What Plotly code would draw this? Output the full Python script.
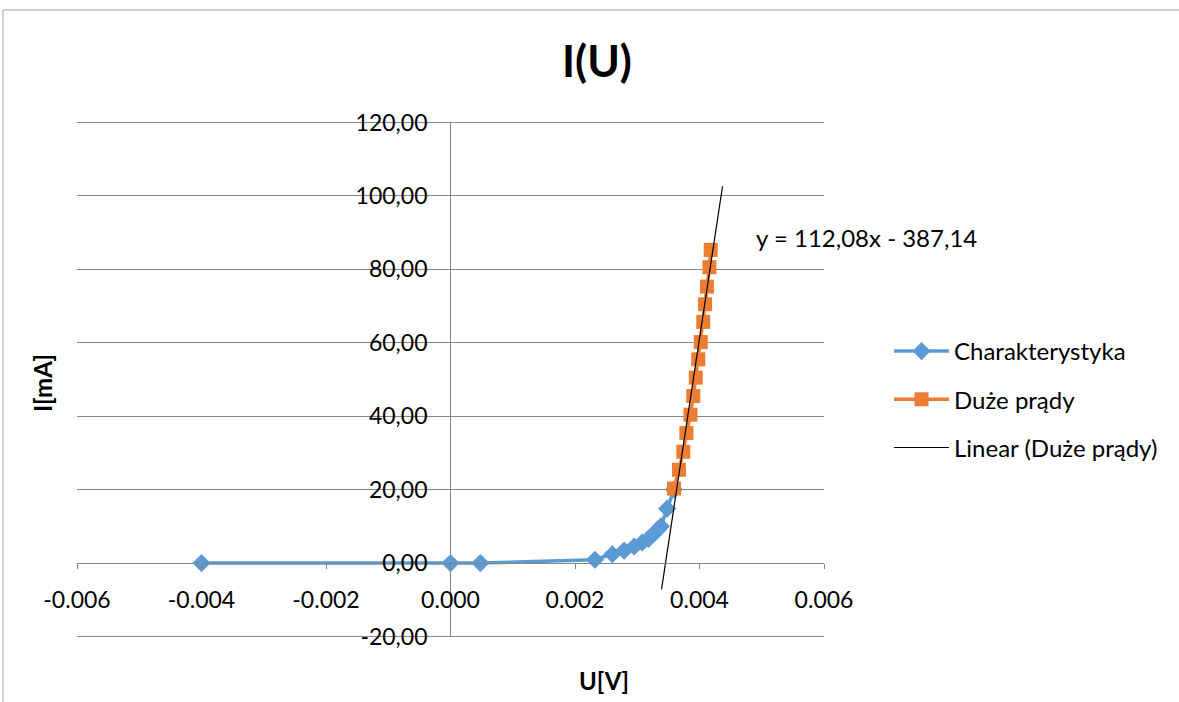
import plotly.graph_objects as go

# ---- data ----
char_u = [-0.0040, 0.0000, 0.00048, 0.00232, 0.00260, 0.00279, 0.00295, 0.00308, 0.00318,
          0.00326, 0.00333, 0.00338, 0.00348, 0.00359]
char_i = [0.0, 0.0, 0.0, 0.9, 2.4, 3.4, 4.5, 5.6, 6.6, 7.9, 9.1, 10.0, 14.8, 20.0]

big_u = [0.00359, 0.00367, 0.00374, 0.00379, 0.003855, 0.00390, 0.00394, 0.00398,
         0.00402, 0.00406, 0.00409, 0.00412, 0.00416, 0.00418]
big_i = [20.3, 25.4, 30.3, 35.4, 40.4, 45.5, 50.5, 55.5, 60.2, 65.7, 70.5, 75.3, 80.6, 85.3]

trend_slope = 112080.0      # per V (112,08 per mV)
trend_intercept = -387.14
trend_u = [0.00339, 0.00437]
trend_i = [trend_slope * u + trend_intercept for u in trend_u]

x_tickvals = [-0.006, -0.004, -0.002, 0.000, 0.002, 0.004, 0.006]
x_ticktext = ["-0.006", "-0.004", "-0.002", "0.000", "0.002", "0.004", "0.006"]
y_tickvals = [-20, 0, 20, 40, 60, 80, 100, 120]
y_ticktext = ["-20,00", "0,00", "20,00", "40,00", "60,00", "80,00", "100,00", "120,00"]

FONT = "Lato, Carlito, Calibri, sans-serif"
BLUE = "#5B9BD5"
ORANGE = "#ED7D31"
GRID = "#868686"

Y_LO, Y_HI = -20.15, 120.15
W, H = 1179, 702
L, R, T, B = 77, 1179 - 824, 122, 702 - 637
PW, PH = W - L - R, H - T - B


def px(xp):
    return (xp - L) / PW


def py(yp):
    return (H - B - yp) / PH


fig = go.Figure()
fig.add_trace(go.Scatter(
    x=char_u, y=char_i, mode="lines+markers", name="Charakterystyka",
    line=dict(color=BLUE, width=3.5),
    marker=dict(symbol="diamond", size=14, color=BLUE),
    legendgroup="a"))
fig.add_trace(go.Scatter(
    x=big_u, y=big_i, mode="lines+markers", name="Duże prądy",
    line=dict(color=ORANGE, width=3.5),
    marker=dict(symbol="square", size=14, color=ORANGE),
    legendgroup="b"))
fig.add_trace(go.Scatter(
    x=trend_u, y=trend_i, mode="lines", name="Linear (Duże prądy)",
    line=dict(color="black", width=1.2),
    legendgroup="c"))

# edge gridlines (top and bottom ticks) drawn explicitly
edge_shapes = [
    dict(type="line", xref="paper", yref="y", x0=0, x1=1, y0=v, y1=v,
         line=dict(color=GRID, width=1), layer="below")
    for v in (y_tickvals[0], y_tickvals[-1])
]

fig.update_layout(
    width=W, height=H,
    margin=dict(l=L, r=R, t=T, b=B),
    paper_bgcolor="white", plot_bgcolor="white",
    font=dict(family=FONT, size=23, color="black"),
    title=dict(text="<b>I(U)</b>", x=597 / W, xref="container", xanchor="center",
               y=1 - 62 / H, yref="container", yanchor="middle",
               font=dict(size=44, family=FONT)),
    showlegend=True,
    legend=dict(x=px(889), xanchor="left", y=py(329), yanchor="top",
                font=dict(size=24, family=FONT), itemwidth=55,
                tracegroupgap=14, bgcolor="rgba(0,0,0,0)"),
    xaxis=dict(range=[-0.006, 0.006], tickvals=x_tickvals, ticktext=x_ticktext,
               showgrid=False, zeroline=True, zerolinecolor=GRID, zerolinewidth=1,
               showline=True, linecolor=GRID, linewidth=1,
               anchor="free", position=(0 - Y_LO) / (Y_HI - Y_LO),
               ticks="outside", ticklen=5, tickcolor=GRID,
               ticklabelstandoff=11,
               tickfont=dict(size=23, family=FONT)),
    yaxis=dict(range=[Y_LO, Y_HI], tickvals=y_tickvals, ticktext=y_ticktext,
               showgrid=True, gridcolor=GRID, gridwidth=1,
               zeroline=False, showline=False,
               anchor="free", position=0.5, ticks="",
               ticklabelstandoff=23,
               tickfont=dict(size=23, family=FONT)),
    annotations=[
        dict(text="<b>U[V]</b>", x=px(604), y=py(680), xref="paper", yref="paper",
             showarrow=False, font=dict(size=24, family=FONT), xanchor="center", yanchor="middle"),
        dict(text="<b>I[mA]</b>", x=px(42), y=py(383), xref="paper", yref="paper",
             showarrow=False, textangle=-90, font=dict(size=24, family=FONT),
             xanchor="center", yanchor="middle"),
        dict(text="y = 112,08x - 387,14", x=px(754), y=py(237), xref="paper", yref="paper",
             showarrow=False, font=dict(size=24, family=FONT), xanchor="left", yanchor="middle"),
    ],
    shapes=edge_shapes + [
        dict(type="line", xref="paper", yref="paper", x0=px(3), x1=2, y0=py(10), y1=py(10),
             line=dict(color="#A0A0A0", width=1)),
        dict(type="line", xref="paper", yref="paper", x0=px(3), x1=px(3), y0=py(10), y1=-1,
             line=dict(color="#A0A0A0", width=1)),
    ],
)

fig.write_html("out.html", config={"displayModeBar": False},
               post_script="document.body.style.margin='0';")
